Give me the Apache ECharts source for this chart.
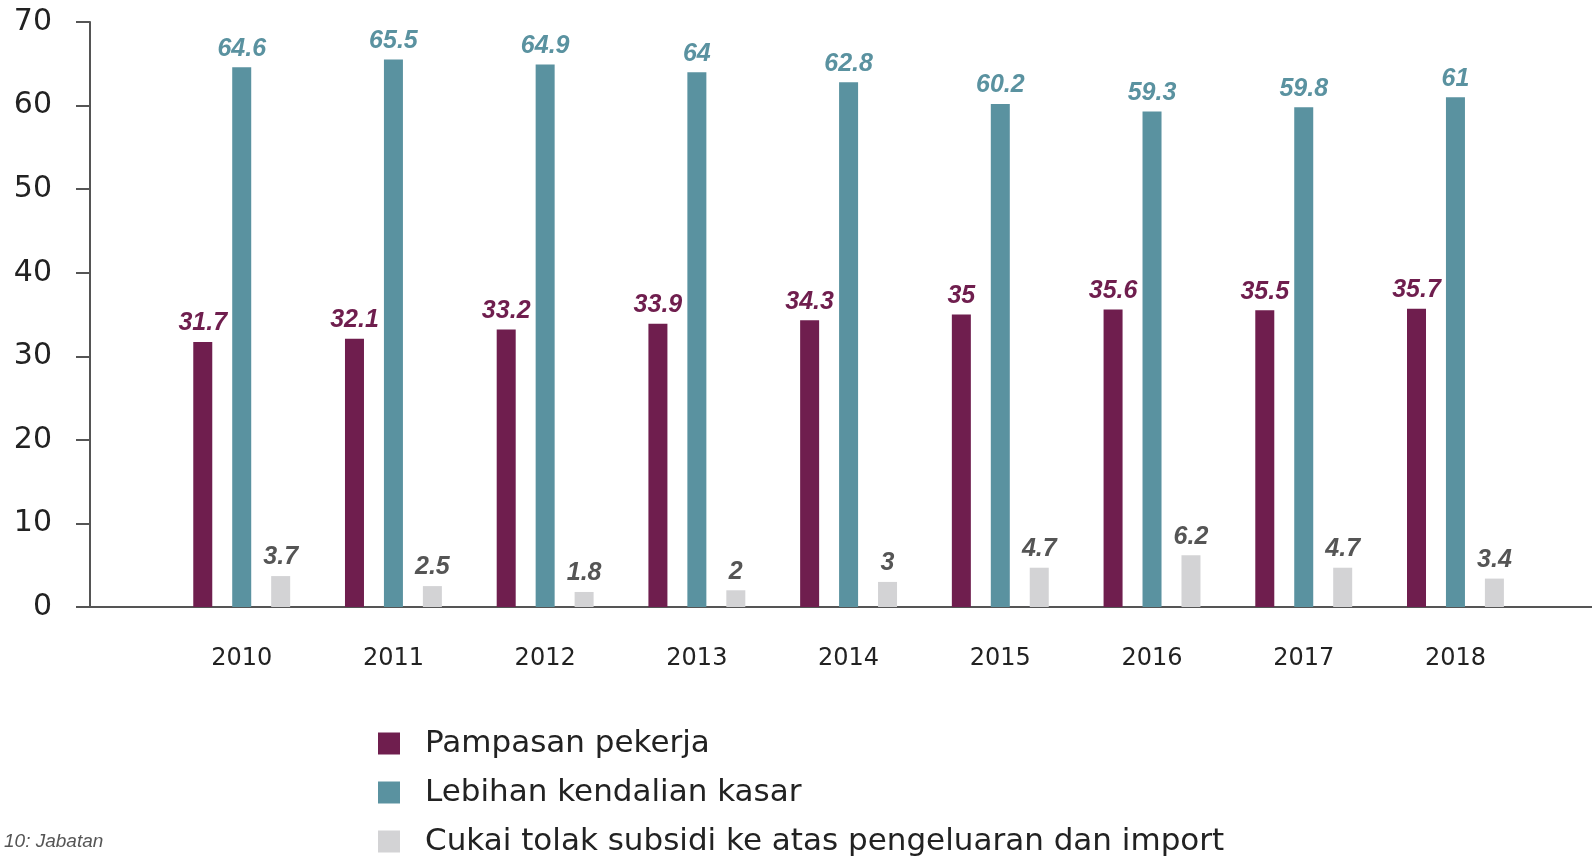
<!DOCTYPE html>
<html>
<head>
<meta charset="utf-8">
<script src="https://cdn.jsdelivr.net/npm/echarts@6/dist/echarts.min.js"></script>
<style>
  html, body { margin: 0; padding: 0; background: #fff; }
  #chart { width: 1592px; height: 856px; }
</style>
</head>
<body>
<div id="chart"></div>
<script>
const years = [2010, 2011, 2012, 2013, 2014, 2015, 2016, 2017, 2018];
const pampasan = [31.7, 32.1, 33.2, 33.9, 34.3, 35, 35.6, 35.5, 35.7];
const lebihan = [64.6, 65.5, 64.9, 64, 62.8, 60.2, 59.3, 59.8, 61];
const cukai = [3.7, 2.5, 1.8, 2, 3, 4.7, 6.2, 4.7, 3.4];
const seriesNames = [
    'Pampasan pekerja',
    'Lebihan kendalian kasar',
    'Cukai tolak subsidi ke atas pengeluaran dan import'
];
const colors = ['#6f1e4e', '#5a92a0', '#d3d3d5'];
const labelColors = ['#6f1e4e', '#5a92a0', '#555555'];

const chart = echarts.init(document.getElementById('chart'));

const makeSeries = (name, values, i) => ({
    name: name,
    type: 'bar',
    barWidth: 19,
    barGap: '105%',
    itemStyle: { color: colors[i] },
    data: years.map((y, k) => [y, values[k]]),
    label: {
        show: true,
        position: 'top',
        distance: 6,
        formatter: p => p.value[1],
        color: labelColors[i],
        fontFamily: 'Liberation Sans',
        fontStyle: 'italic',
        fontWeight: 'bold',
        fontSize: 25
    }
});

chart.setOption({
    animation: false,
    grid: { left: 90, right: 0, top: 22, bottom: 249 },
    xAxis: {
        type: 'value',
        min: 2009,
        max: 2018.9,
        interval: 1,
        splitLine: { show: false },
        axisTick: { show: false },
        axisLine: { show: true, lineStyle: { color: '#555', width: 2 } },
        axisLabel: {
            margin: 40,
            showMaxLabel: false,
            color: '#222',
            fontFamily: 'DejaVu Sans',
            fontSize: 24,
            formatter: v => (v >= 2010 && v <= 2018 && Number.isInteger(v)) ? String(v) : ''
        }
    },
    yAxis: {
        type: 'value',
        min: 0,
        max: 70,
        interval: 10,
        splitLine: { show: false },
        axisLine: { show: true, lineStyle: { color: '#555', width: 2 } },
        axisTick: { show: true, length: 14, lineStyle: { color: '#555', width: 2 } },
        axisLabel: {
            margin: 38,
            color: '#222',
            fontFamily: 'DejaVu Sans',
            fontSize: 30
        }
    },
    legend: {
        orient: 'vertical',
        left: 378,
        top: 728,
        height: 200,
        padding: 0,
        itemWidth: 22,
        itemHeight: 22,
        itemGap: 18,
        icon: 'rect',
        selectedMode: false,
        textStyle: {
            color: '#222',
            fontFamily: 'DejaVu Sans',
            fontSize: 31,
            lineHeight: 30,
            padding: [0, 0, 0, 20]
        },
        data: seriesNames
    },
    graphic: [{
        type: 'text',
        left: 4,
        top: 832,
        style: {
            text: '10: Jabatan',
            fill: '#555',
            font: 'italic 19px "Liberation Sans"'
        }
    }],
    series: [
        makeSeries(seriesNames[0], pampasan, 0),
        makeSeries(seriesNames[1], lebihan, 1),
        makeSeries(seriesNames[2], cukai, 2)
    ]
});
</script>
</body>
</html>
